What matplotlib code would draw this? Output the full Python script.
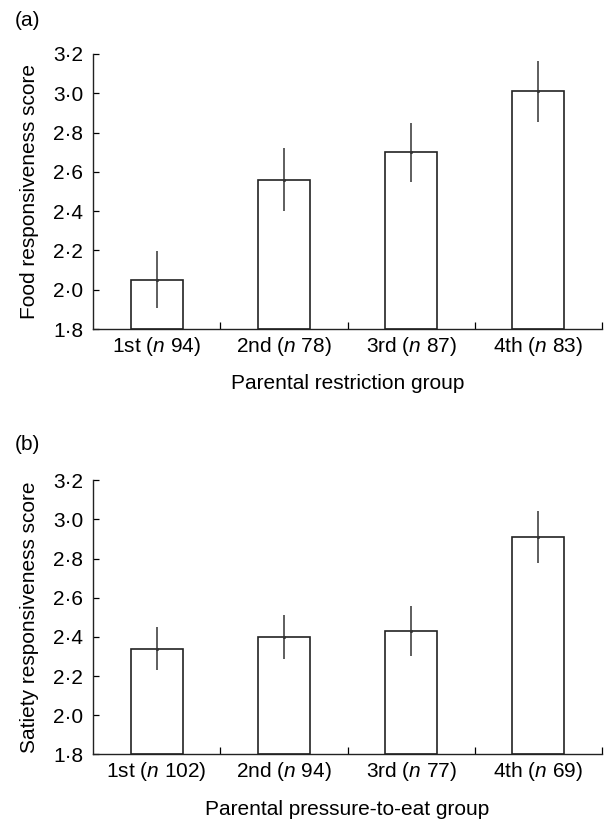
import numpy as np
import matplotlib
matplotlib.use('Agg')
import matplotlib.pyplot as plt
from matplotlib.ticker import FixedLocator, FuncFormatter

plt.rcParams['font.family'] = ['Liberation Sans', 'DejaVu Sans']
plt.rcParams['mathtext.fontset'] = 'custom'
plt.rcParams['mathtext.rm'] = 'Liberation Sans'
plt.rcParams['mathtext.it'] = 'Liberation Sans:italic'
plt.rcParams['font.size'] = 15

# ---- data ----
groups = ['1st', '2nd', '3rd', '4th']

n_restrict = [94, 78, 87, 83]
food_resp = [2.05, 2.56, 2.70, 3.01]
food_err = [0.145, 0.16, 0.15, 0.155]

n_pressure = [102, 94, 77, 69]
satiety_resp = [2.34, 2.40, 2.43, 2.91]
satiety_err = [0.11, 0.113, 0.126, 0.135]

yticks = [1.8, 2.0, 2.2, 2.4, 2.6, 2.8, 3.0, 3.2]

panels = [
    ('(a)', food_resp, food_err, n_restrict,
     'Food responsiveness score', 'Parental restriction group'),
    ('(b)', satiety_resp, satiety_err, n_pressure,
     'Satiety responsiveness score', 'Parental pressure-to-eat group'),
]

fig = plt.figure(figsize=(6.06, 8.23), dpi=100)
# axes rectangles [left, bottom, width, height]
rects = [[0.1535, 0.6002, 0.8399, 0.3342],
         [0.1535, 0.0835, 0.8399, 0.3329]]
tag_y = [1 - 21 / 823, 1 - 445 / 823]

for (tag, vals, errs, ns, ylab, xlab), rect, ty in zip(panels, rects, tag_y):
    ax = fig.add_axes(rect)
    x = np.arange(len(groups))
    ax.bar(x, [v - 1.8 for v in vals], bottom=1.8, width=0.41,
           facecolor='white', edgecolor='#222222', linewidth=1.2, zorder=2)
    ax.errorbar(x, vals, yerr=errs, fmt='.', color='#333333', ecolor='#333333',
                elinewidth=1.1, markersize=2.5, capsize=0, zorder=3)

    ax.set_xlim(-0.5, len(groups) - 0.5)
    ax.set_ylim(1.8, 3.2)
    ax.set_yticks(yticks)
    ax.yaxis.set_major_formatter(FuncFormatter(lambda v, p: f'{v:.1f}'.replace('.', '·')))

    ax.set_xticks(x)
    ax.set_xticklabels([f'{g} ($\\it{{n}}$ {n})' for g, n in zip(groups, ns)])
    ax.xaxis.set_minor_locator(FixedLocator(np.arange(0.5, len(groups), 1.0)))
    ax.tick_params(axis='x', which='major', length=0, pad=4, labelsize=15)
    ax.tick_params(axis='x', which='minor', direction='in', length=5, width=0.9)
    ax.tick_params(axis='y', direction='in', length=4.5, width=0.9, pad=7, labelsize=15)

    for s in ['top', 'right']:
        ax.spines[s].set_visible(False)
    for s in ['left', 'bottom']:
        ax.spines[s].set_linewidth(1.0)
        ax.spines[s].set_color('#222222')

    ax.set_ylabel(ylab, fontsize=15, labelpad=10)
    ax.set_xlabel(xlab, fontsize=15, labelpad=12)

    fig.text(0.024, ty, tag, fontsize=15, va='center', ha='left')

fig.savefig('out.png', dpi=100)
